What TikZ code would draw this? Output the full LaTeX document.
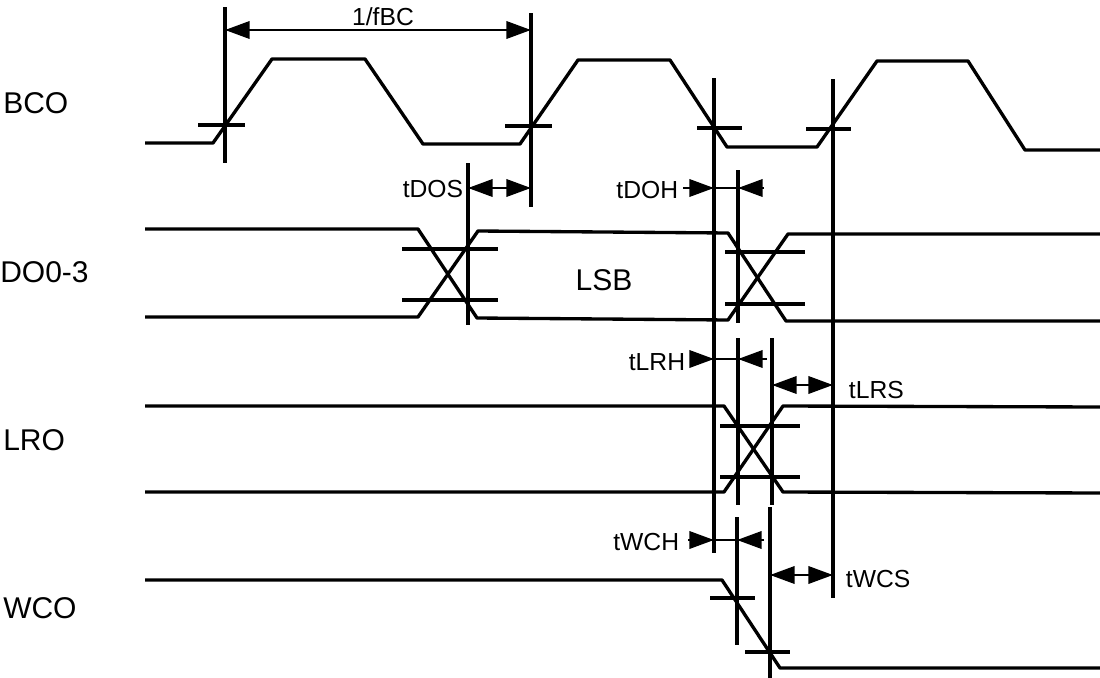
\documentclass[tikz,border=0pt]{standalone}
\usepackage{fontspec}
\setmainfont{Liberation Sans}
\usetikzlibrary{arrows.meta,positioning,calc}

\begin{document}
\begin{tikzpicture}[x=0.75pt, y=-0.75pt]
\tikzstyle{wave} = [line width=2.5pt, line join=round]
\tikzstyle{guide} = [line width=2.4pt]
\tikzstyle{tickmark} = [line width=2.4pt]
\tikzstyle{dim} = [line width=2pt, {Triangle[length=18.5pt,width=13pt]}-{Triangle[length=18.5pt,width=13pt]}]
\tikzstyle{into} = [line width=2pt, -{Triangle[length=18.5pt,width=13pt]}]
\tikzstyle{sig} = [font=\fontsize{22.5}{26}\selectfont, inner sep=0pt, anchor=west]
\tikzstyle{tlabel} = [font=\fontsize{18.5}{22}\selectfont, inner sep=2pt]

\useasboundingbox (0,0) rectangle (1100,678);

% signal names
\node[sig] (bco) at (3,103) {BCO};
\node[sig] (do) at (0,272) {DO0-3};
\node[sig] (lro) at (3,440) {LRO};
\node[sig] (wco) at (3,608) {WCO};

% BCO
\draw[wave] (145,143) -- (213,143) -- (272,59) -- (365,59) -- (423,144) -- (520,144)
  -- (578,60) -- (670,60) -- (727,147) -- (817,147) -- (877,61) -- (968,61)
  -- (1025,150) -- (1100,150);
\draw[tickmark] (198,125) -- (245,125);
\draw[tickmark] (505,126) -- (552,126);
\draw[tickmark] (697,128) -- (742,128);
\draw[tickmark] (806,129) -- (851,129);

% DO0-3
\draw[wave] (145,229) -- (418,229) -- (477,318) -- (728,320) -- (788,234) -- (1100,234);
\draw[wave] (145,317) -- (418,317) -- (478,231) -- (728,233) -- (786,321) -- (1100,321);
\draw[tickmark] (402,249) -- (498,249);
\draw[tickmark] (402,300) -- (498,300);
\draw[tickmark] (725,252) -- (805,252);
\draw[tickmark] (725,304) -- (805,304);
\node[font=\fontsize{22.5}{26}\selectfont] (lsb) at (604,280) {LSB};

% LRO
\draw[wave] (145,406) -- (724,406) -- (783,492) -- (1100,493);
\draw[wave] (145,492) -- (724,492) -- (783,406) -- (1100,407);
\draw[tickmark] (720,426) -- (800,426);
\draw[tickmark] (720,477) -- (800,477);

% WCO
\draw[wave] (145,580) -- (722,580) -- (780,668) -- (1100,668);
\draw[tickmark] (710,598) -- (755,598);
\draw[tickmark] (745,652) -- (790,652);

% timing lines
\coordinate (r1) at (225,7);    \coordinate (r1b) at (225,163);
\coordinate (r2) at (531,13);   \coordinate (r2b) at (531,207);
\coordinate (f1) at (714,78);   \coordinate (f1b) at (714,553);
\coordinate (r3) at (833,79);   \coordinate (r3b) at (833,598);
\draw[guide] (r1) -- (r1b);
\draw[guide] (r2) -- (r2b);
\draw[guide] (f1) -- (f1b);
\draw[guide] (r3) -- (r3b);
\draw[guide] (468,163) -- (468,325);
\draw[guide] (738,170) -- (738,323);
\draw[guide] (738,338) -- (738,505);
\draw[guide] (772,338) -- (772,505);
\draw[guide] (737,517) -- (737,645);
\draw[guide] (770,507) -- (770,678);

% 1/fBC
\draw[dim] (225,30) -- (531,30);
\node[tlabel] (fbc) at (383,17) {1/fBC};

% tDOS, tDOH
\draw[dim] (468,188) -- (531,188);
\node[tlabel, anchor=east] (tdos) at (466,189) {tDOS};
\node[tlabel, anchor=east] (tdoh) at (681,190) {tDOH};
\draw[into] (683,188) -- (714,188);
\draw[line width=2pt] (714,188) -- (738,188);
\draw[into] (764,188) -- (738,188);

% tLRH, tLRS
\node[tlabel, anchor=east] (tlrh) at (688,362) {tLRH};
\draw[into] (690,359) -- (714,359);
\draw[line width=2pt] (714,359) -- (738,359);
\draw[into] (767,359) -- (738,359);
\draw[dim] (772,385) -- (833,385);
\node[tlabel, anchor=west] (tlrs) at (846,390) {tLRS};

% tWCH, tWCS
\node[tlabel, anchor=east] (twch) at (682,542) {tWCH};
\draw[into] (688,540) -- (714,540);
\draw[line width=2pt] (714,540) -- (737,540);
\draw[into] (764,540) -- (737,540);
\draw[dim] (770,575) -- (833,575);
\node[tlabel, anchor=west] (twcs) at (843,579) {tWCS};
\end{tikzpicture}
\end{document}
